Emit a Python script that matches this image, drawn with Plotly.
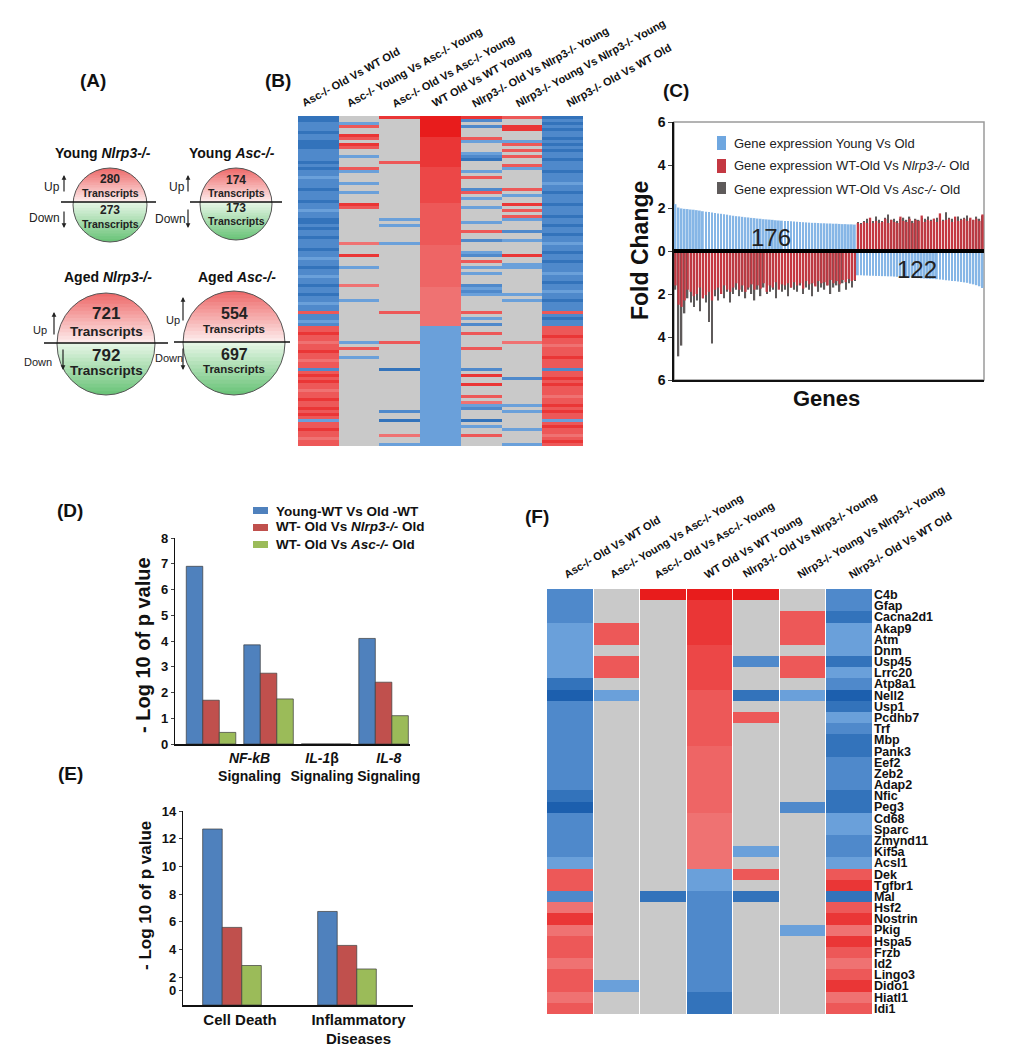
import numpy as np
import plotly.graph_objects as go

W, H = 1012, 1050
OFF = 8  # the page body margin shifts the figure by this much


def px(x):
    return (x - OFF) / W


def py(y):
    return 1 - (y - OFF) / H


FONT = 'Liberation Sans, Arial, sans-serif'

# ---------------- data ----------------
# (A) transcript counts
venn_titles = ['Young <i>Nlrp3-/-</i>', 'Young <i>Asc-/-</i>', 'Aged <i>Nlrp3-/-</i>', 'Aged <i>Asc-/-</i>']
venn_up = [280, 174, 721, 554]
venn_down = [273, 173, 792, 697]

# (B) heatmap, 110 rows x 7 comparisons
comparisons = ['Asc-/- Old Vs WT Old', 'Asc-/- Young Vs Asc-/- Young', 'Asc-/- Old Vs Asc-/- Young',
               'WT Old Vs WT Young', 'Nlrp3-/- Old Vs Nlrp3-/- Young', 'Nlrp3-/- Young Vs Nlrp3-/- Young',
               'Nlrp3-/- Old Vs WT Old']
codes = {'D': -2.0, 'B': -1.7, 'b': -1.35, 'l': -1.0, '.': 0.0,
         'p': 1.0, 'q': 1.15, 'r': 1.3, 'Q': 1.5, 'R': 1.7, 'X': 2.0}
b_rows = 110
b_base = [[(0, 69, 'b'), (70, 109, 'r')],
          [(0, 109, '.')],
          [(0, 109, '.')],
          [(0, 6, 'X'), (7, 16, 'R'), (17, 28, 'Q'), (29, 42, 'r'), (43, 56, 'q'), (57, 69, 'p'), (70, 109, 'l')],
          [(0, 109, '.')],
          [(0, 109, '.')],
          [(0, 69, 'b'), (70, 109, 'r')]]
b_stripes = [
    [(0, 'B'), (1, 'B'), (5, 'B'), (8, 'B'), (9, 'B'), (10, 'B'), (15, 'B'), (17, 'B'), (20, 'l'), (24, 'B'),
     (28, 'B'), (31, 'l'), (34, 'B'), (35, 'B'), (37, 'B'), (40, 'B'), (44, 'B'), (47, 'l'), (50, 'B'), (53, 'l'),
     (56, 'B'), (59, 'B'), (62, 'l'), (65, 'r'), (68, 'l'), (72, 'R'), (75, 'p'), (78, 'R'), (81, 'p'), (84, 'b'),
     (86, 'R'), (88, 'R'), (91, 'p'), (94, 'R'), (97, 'R'), (99, 'R'), (101, 'l'), (104, 'R'), (107, 'p')],
    [(2, 'l'), (3, 'r'), (6, 'R'), (7, 'r'), (9, 'R'), (10, 'r'), (13, 'l'), (17, 'r'), (18, 'l'), (22, 'l'),
     (25, 'l'), (29, 'R'), (30, 'r'), (42, 'p'), (46, 'R'), (50, 'l'), (56, 'p'), (61, 'l'), (75, 'l'), (77, 'r'),
     (80, 'l')],
    [(0, 'R'), (15, 'r'), (34, 'l'), (36, 'l'), (42, 'l'), (65, 'r'), (75, 'r'), (84, 'B'), (98, 'b'), (101, 'B'),
     (106, 'p'), (109, 'l')],
    [],
    [(0, 'R'), (1, 'b'), (3, 'b'), (7, 'r'), (8, 'l'), (12, 'l'), (13, 'b'), (14, 'B'), (18, 'l'), (20, 'r'),
     (24, 'b'), (25, 'r'), (27, 'l'), (30, 'l'), (35, 'l'), (38, 'r'), (41, 'b'), (45, 'l'), (46, 'b'), (48, 'r'),
     (50, 'l'), (52, 'l'), (56, 'b'), (57, 'l'), (58, 'b'), (59, 'l'), (65, 'r'), (67, 'l'), (69, 'b'), (72, 'r'),
     (77, 'r'), (84, 'b'), (86, 'R'), (89, 'R'), (93, 'r'), (95, 'p'), (96, 'l'), (97, 'b'), (101, 'B'), (103, 'l'),
     (106, 'r')],
    [(0, 'r'), (3, 'R'), (4, 'R'), (8, 'l'), (9, 'r'), (11, 'r'), (13, 'r'), (16, 'r'), (17, 'l'), (24, 'r'),
     (26, 'l'), (29, 'R'), (31, 'r'), (33, 'r'), (34, 'l'), (38, 'b'), (41, 'l'), (46, 'R'), (49, 'l'), (50, 'l'),
     (59, 'l'), (61, 'l'), (75, 'p'), (87, 'b'), (96, 'l'), (98, 'l'), (104, 'l'), (109, 'l')],
    [(0, 'B'), (2, 'B'), (4, 'B'), (7, 'B'), (9, 'B'), (11, 'B'), (14, 'B'), (18, 'B'), (22, 'l'), (25, 'B'),
     (29, 'B'), (33, 'B'), (36, 'B'), (39, 'B'), (42, 'l'), (45, 'B'), (48, 'B'), (52, 'l'), (55, 'B'), (58, 'l'),
     (61, 'B'), (65, 'r'), (67, 'B'), (73, 'R'), (76, 'p'), (80, 'R'), (84, 'b'), (87, 'R'), (89, 'R'), (93, 'p'),
     (96, 'R'), (98, 'R'), (101, 'l'), (103, 'R'), (106, 'p'), (108, 'R')],
]

# (C) fold change per gene, 60 genes up in young / 42 down in young
c_young_old_left = [2.18, 2.02, 1.98, 1.96, 1.95, 1.93, 1.92, 1.90, 1.88, 1.85,
                    1.83, 1.81, 1.79, 1.77, 1.75, 1.73, 1.71, 1.69, 1.66, 1.64,
                    1.62, 1.61, 1.59, 1.57, 1.56, 1.54, 1.53, 1.51, 1.50, 1.48,
                    1.47, 1.46, 1.45, 1.43, 1.42, 1.41, 1.40, 1.39, 1.38, 1.37,
                    1.36, 1.35, 1.34, 1.33, 1.32, 1.31, 1.31, 1.30, 1.29, 1.29,
                    1.28, 1.28, 1.27, 1.27, 1.26, 1.25, 1.25, 1.24, 1.24, 1.23]
c_young_old_right = [-1.13, -1.13, -1.14, -1.14, -1.15, -1.15, -1.16, -1.16, -1.17, -1.17,
                     -1.18, -1.18, -1.19, -1.20, -1.21, -1.22, -1.22, -1.23, -1.24, -1.25,
                     -1.26, -1.27, -1.28, -1.29, -1.30, -1.30, -1.31, -1.33, -1.34, -1.36,
                     -1.37, -1.39, -1.40, -1.42, -1.44, -1.46, -1.48, -1.52, -1.55, -1.59,
                     -1.64, -1.72]
c_nlrp3_left = [-1.6, -2.5, -2.6, -2.3, -1.8, -1.9, -2.1, -2.0, -1.7, -2.2,
                -2.05, -1.9, -2.3, -1.8, -1.7, -2.0, -1.6, -1.8, -1.9, -1.7,
                -1.5, -1.8, -1.6, -1.9, -1.7, -1.55, -1.8, -1.6, -1.75, -1.5,
                -1.9, -1.6, -1.7, -1.45, -1.8, -1.55, -1.6, -1.5, -1.7, -1.45,
                -1.6, -1.5, -1.75, -1.4, -1.55, -1.5, -1.65, -1.4, -1.5, -1.45,
                -1.6, -1.35, -1.5, -1.4, -1.55, -1.35, -1.45, -1.3, -1.4, -1.35]
c_nlrp3_right = [1.3, 1.25, 1.35, 1.3, 1.55, 1.3, 1.4, 1.3, 1.35, 1.5,
                 1.3, 1.45, 1.35, 1.3, 1.6, 1.4, 1.35, 1.5, 1.3, 1.45,
                 1.4, 1.65, 1.35, 1.45, 1.4, 1.5, 1.35, 1.75, 1.4, 1.45,
                 1.5, 1.35, 1.6, 1.4, 1.45, 1.5, 1.4, 1.55, 1.45, 1.5,
                 1.4, 1.7]
c_asc_left = [-1.8, -4.9, -4.4, -2.9, -2.2, -2.4, -2.6, -2.3, -2.8, -2.2,
              -2.4, -3.3, -4.3, -2.1, -2.3, -2.0, -2.2, -1.9, -2.4, -2.0,
              -1.8, -2.1, -1.9, -2.2, -1.8, -2.0, -2.3, -1.8, -2.1, -1.7,
              -2.0, -1.9, -1.8, -2.2, -1.7, -1.9, -1.8, -2.1, -1.7, -1.8,
              -1.9, -1.6, -2.0, -1.7, -1.8, -2.1, -1.6, -1.9, -1.7, -1.8,
              -1.6, -2.0, -1.7, -1.6, -1.9, -1.5, -1.8, -1.5, -1.7, -1.4]
c_asc_right = [1.35, 1.3, 1.4, 1.5, 1.45, 1.4, 1.6, 1.45, 1.4, 1.55,
               1.7, 1.45, 1.5, 1.4, 1.5, 1.55, 1.45, 1.6, 1.4, 1.5,
               1.45, 1.55, 1.5, 1.6, 1.45, 1.5, 1.55, 1.5, 1.45, 1.8,
               1.55, 1.5, 1.45, 1.6, 1.5, 1.55, 1.65, 1.5, 1.45, 1.6,
               1.5, 1.65]
c_counts = ['176', '122']
c_names = ['Gene expression Young Vs Old', 'Gene expression WT-Old Vs <i>Nlrp3-/-</i> Old',
           'Gene expression WT-Old Vs <i>Asc-/-</i> Old']
c_ticks = [-6, -4, -2, 0, 2, 4, 6]
c_ticktext = ['6', '4', '2', '0', '2', '4', '6']

# (D) pathway significance
d_groups = ['', '<i>NF-kB</i><br>Signaling', '<i>IL-1</i>β<br>Signaling', '<i>IL-8</i><br>Signaling']
d_names = ['Young-WT Vs Old -WT', 'WT- Old Vs <i>Nlrp3-/-</i> Old', 'WT- Old Vs <i>Asc-/-</i> Old']
d_young_wt = [6.9, 3.85, 0, 4.1]
d_nlrp3 = [1.7, 2.75, 0, 2.4]
d_asc = [0.45, 1.75, 0, 1.1]

# (E) disease significance
e_groups = ['Cell Death', 'Inflammatory<br>Diseases']
e_young_wt = [12.7, 6.75]
e_nlrp3 = [5.6, 4.3]
e_asc = [2.85, 2.6]
e_ticks = [1.05, 2, 4, 6, 8, 10, 12, 14]
e_ticktext = ['0', '2', '4', '6', '8', '10', '12', '14']

# (F) selected genes
f_genes = ['C4b', 'Gfap', 'Cacna2d1', 'Akap9', 'Atm', 'Dnm', 'Usp45', 'Lrrc20', 'Atp8a1', 'Nell2',
           'Usp1', 'Pcdhb7', 'Trf', 'Mbp', 'Pank3', 'Eef2', 'Zeb2', 'Adap2', 'Nfic', 'Peg3',
           'Cd68', 'Sparc', 'Zmynd11', 'Kif5a', 'Acsl1', 'Dek', 'Tgfbr1', 'Mal', 'Hsf2', 'Nostrin',
           'Pkig', 'Hspa5', 'Frzb', 'Id2', 'Lingo3', 'Dido1', 'Hiatl1', 'Idi1']
f_cols = ['bbbll lllBD bbbbb bbbBD bbbbl rrbpR prrpr rpr',
          '...rr .rr.l ..... ..... ..... ..... ..... l..',
          'X.... ..... ..... ..... ..... ..B.. ..... ...',
          'XRRRR QQQQr rrrrq qqqqq ppppp llbbb bbbbb bBB',
          'X.... .b..B .r... ..... ...l. r.B.. ..... ...',
          '..rrr .rr.l ..... ....b ..... ..... l.... ...',
          'bbBll lBlbD BlbBB bbbBB llbbl rRBrR pRrpr Rpr']

# ---------------- figure ----------------
fig = go.Figure()
scale = [[0, '#1c5fae'], [0.25, '#6aa0da'], [0.5, '#c9c9c9'], [0.75, '#ef7272'], [1, '#e81c1c']]
c_colors = ['#86b6e6', '#c43842', '#5e5a5a']
d_colors = ['#4f81bd', '#c0504d', '#9bbb59']

# (C) grey drawn under red
c_x = list(range(len(c_young_old_left) + len(c_young_old_right)))
fig.add_trace(go.Bar(x=c_x, y=c_young_old_left + c_young_old_right, width=0.6,
                     marker=dict(color=c_colors[0], line_width=0), name=c_names[0], xaxis='x', yaxis='y'))
fig.add_trace(go.Bar(x=c_x, y=c_asc_left + c_asc_right, width=0.45,
                     marker=dict(color=c_colors[2], line_width=0), name=c_names[2], xaxis='x', yaxis='y'))
fig.add_trace(go.Bar(x=c_x, y=c_nlrp3_left + c_nlrp3_right, width=0.75,
                     marker=dict(color=c_colors[1], line_width=0), name=c_names[1], xaxis='x', yaxis='y'))

# (D) and (E)
bar_line = dict(color='rgba(60,60,60,0.7)', width=1)
d_x = list(range(len(d_groups)))
for vals, col, name, off in zip([d_young_wt, d_nlrp3, d_asc], d_colors, d_names, [-0.43, -0.143, 0.144]):
    fig.add_trace(go.Bar(x=d_x, y=vals, offset=off, width=0.287, marker=dict(color=col, line=bar_line),
                         name=name, xaxis='x2', yaxis='y2'))
e_x = list(range(len(e_groups)))
for vals, col, off in zip([e_young_wt, e_nlrp3, e_asc], d_colors, [-0.255, -0.085, 0.085]):
    fig.add_trace(go.Bar(x=e_x, y=vals, offset=off, width=0.17, marker=dict(color=col, line=bar_line),
                         xaxis='x3', yaxis='y3'))

# (B) heatmap
b_z = [[0.0] * len(comparisons) for _ in range(b_rows)]
for ci, runs in enumerate(b_base):
    for r0, r1, c in runs:
        for r in range(r0, r1 + 1):
            b_z[r][ci] = codes[c]
    for r, c in b_stripes[ci]:
        b_z[r][ci] = codes[c]
fig.add_trace(go.Heatmap(z=b_z, x=list(range(len(comparisons))), y=list(range(b_rows)), colorscale=scale,
                         zmin=-2, zmax=2, showscale=False, xaxis='x4', yaxis='y4'))

# (F) heatmap
f_strs = [s.replace(' ', '') for s in f_cols]
f_z = [[codes[f_strs[c][r]] for c in range(len(f_strs))] for r in range(len(f_genes))]
fig.add_trace(go.Heatmap(z=f_z, x=list(range(len(comparisons))), y=list(range(len(f_genes))), colorscale=scale,
                         zmin=-2, zmax=2, showscale=False, xgap=1, xaxis='x5', yaxis='y5'))

# ---------------- panel A drawing ----------------
shapes = []
ann = []


def mix(c1, c2, t):
    a = [int(c1[i:i + 2], 16) for i in (1, 3, 5)]
    b = [int(c2[i:i + 2], 16) for i in (1, 3, 5)]
    return '#%02x%02x%02x' % tuple(round(a[k] + (b[k] - a[k]) * t) for k in range(3))


def strip_path(cx, cy, rx, ry, ya, yb):
    ys = np.linspace(ya, yb, 6)
    w = rx * np.sqrt(np.clip(1 - ((ys - cy) / ry) ** 2, 0, 1))
    pts = [(cx - wi, yi) for wi, yi in zip(w, ys)] + [(cx + wi, yi) for wi, yi in zip(w[::-1], ys[::-1])]
    return 'M ' + ' L '.join('%.5f,%.5f' % (px(x), py(y)) for x, y in pts) + ' Z'


venn_geo = [
    dict(cx=110, cy=205, rx=37, ry=37, split=202, lx=(61, 156), title=(103, 153), nums=(179, 193, 210, 224),
         fs=(12, 10.5), up=(52, 187, 64, 175, 193), dn=(44, 218, 64, 210, 228)),
    dict(cx=236, cy=204, rx=36, ry=36, split=202, lx=(190, 282), title=(232, 153), nums=(180, 193, 208, 221),
         fs=(12, 10.5), up=(177, 187, 188, 175, 193), dn=(170, 219, 188, 208, 228)),
    dict(cx=106, cy=344, rx=49, ry=51, split=343, lx=(44, 168), title=(108, 277), nums=(314, 332, 355, 371),
         fs=(17, 13.5), up=(40, 330, 54, 312, 336), dn=(38, 362, 63, 348, 370)),
    dict(cx=234, cy=343, rx=51, ry=52, split=342, lx=(174, 290), title=(237, 277), nums=(313, 329, 354, 369),
         fs=(16, 11.5), up=(173, 320, 183, 297, 322), dn=(169, 358, 183, 347, 370)),
]
for i, g in enumerate(venn_geo):
    cx, cy, rx, ry, sp = g['cx'], g['cy'], g['rx'], g['ry'], g['split']
    top, bot = cy - ry, cy + ry
    n = 14
    for k in range(n):
        ya = top + (sp - top) * k / n
        yb = min(top + (sp - top) * (k + 1) / n + 1.0, sp)
        shapes.append(dict(type='path', xref='paper', yref='paper', path=strip_path(cx, cy, rx, ry, ya, yb),
                           fillcolor=mix('#ee6c6c', '#fde9e9', k / (n - 1)), line=dict(width=0), layer='below'))
        ya = sp + (bot - sp) * k / n
        yb = min(sp + (bot - sp) * (k + 1) / n + 1.0, bot)
        shapes.append(dict(type='path', xref='paper', yref='paper', path=strip_path(cx, cy, rx, ry, ya, yb),
                           fillcolor=mix('#e4f5e4', '#6cc47a', k / (n - 1)), line=dict(width=0), layer='below'))
    shapes.append(dict(type='circle', xref='paper', yref='paper', x0=px(cx - rx), x1=px(cx + rx),
                       y0=py(cy + ry), y1=py(cy - ry), line=dict(color='#555', width=1)))
    shapes.append(dict(type='line', xref='paper', yref='paper', x0=px(g['lx'][0]), x1=px(g['lx'][1]),
                       y0=py(sp), y1=py(sp), line=dict(color='#111', width=1.3)))
    ann.append(dict(x=px(g['title'][0]), y=py(g['title'][1]), text=venn_titles[i],
                    font=dict(size=14, weight='bold', color='#111')))
    for j, (txt, yy) in enumerate(zip([str(venn_up[i]), 'Transcripts', str(venn_down[i]), 'Transcripts'],
                                      g['nums'])):
        ann.append(dict(x=px(cx), y=py(yy), text=txt,
                        font=dict(size=g['fs'][j % 2], weight='bold', color='#222')))
    lab_fs = 12 if i < 2 else 11
    ann.append(dict(x=px(g['up'][0]), y=py(g['up'][1]), text='Up', font=dict(size=lab_fs, color='#222')))
    ann.append(dict(x=px(g['dn'][0]), y=py(g['dn'][1]), text='Down', font=dict(size=lab_fs, color='#222')))
    ann.append(dict(x=px(g['up'][2]), y=py(g['up'][3]), ax=0, ay=g['up'][4] - g['up'][3], text='', showarrow=True,
                    arrowhead=2, arrowsize=0.8, arrowwidth=1.2, arrowcolor='#222'))
    ann.append(dict(x=px(g['dn'][2]), y=py(g['dn'][4]), ax=0, ay=g['dn'][3] - g['dn'][4], text='', showarrow=True,
                    arrowhead=2, arrowsize=0.8, arrowwidth=1.2, arrowcolor='#222'))

# panel letters
for txt, x, y in [('(A)', 93, 80), ('(B)', 278, 80), ('(C)', 676, 90), ('(D)', 70, 510), ('(E)', 70, 773),
                  ('(F)', 537, 517)]:
    ann.append(dict(x=px(x), y=py(y), text=txt, font=dict(size=19, weight='bold', color='#111')))

# heatmap column labels
for txt, x in zip(comparisons, [303, 348, 393, 433, 473, 517, 568]):
    ann.append(dict(x=px(x - 6), y=py(112), text=txt, textangle=-29, xanchor='left', yanchor='bottom',
                    font=dict(size=11, weight='bold', color='#111')))
for txt, x in zip(comparisons, [565, 611, 655, 705, 744, 798, 850]):
    ann.append(dict(x=px(x - 6), y=py(583), text=txt, textangle=-31, xanchor='left', yanchor='bottom',
                    font=dict(size=11, weight='bold', color='#111')))

# legends drawn by hand
for name, col, (y0, y1), yt in zip(c_names, c_colors, [(136, 150), (159, 173), (182, 194)], [143, 166, 189]):
    shapes.append(dict(type='rect', xref='paper', yref='paper', x0=px(717), x1=px(726), y0=py(y1), y1=py(y0),
                       fillcolor=col if col != '#86b6e6' else '#6fa7e0', line_width=0))
    ann.append(dict(x=px(732), y=py(yt), text=name, xanchor='left', font=dict(size=13, color='#222')))
for name, col, (y0, y1), yt in zip(d_names, d_colors, [(507, 514), (524, 531), (541, 548)], [511, 527, 544]):
    shapes.append(dict(type='rect', xref='paper', yref='paper', x0=px(253), x1=px(268), y0=py(y1), y1=py(y0),
                       fillcolor=col, line_width=0))
    ann.append(dict(x=px(274), y=py(yt), text=name, xanchor='left',
                    font=dict(size=13.5, weight='bold', color='#111')))

# panel C texts and axis titles
ann.append(dict(x=px(771), y=py(237), text=c_counts[0], font=dict(size=24, color='#222')))
ann.append(dict(x=px(917), y=py(269), text=c_counts[1], font=dict(size=24, color='#222')))
ann.append(dict(x=px(640), y=py(251), text='Fold Change', textangle=-90,
                font=dict(size=23, weight='bold', color='#111')))
ann.append(dict(x=px(826), y=py(398), text='Genes', font=dict(size=22, weight='bold', color='#111')))
ann.append(dict(x=px(143), y=py(645), text='- Log 10 of p value', textangle=-90,
                font=dict(size=20, weight='bold', color='#111')))
ann.append(dict(x=px(145), y=py(896), text='- Log 10 of p value', textangle=-90,
                font=dict(size=17, weight='bold', color='#111')))
for a in ann:
    a.setdefault('xref', 'paper')
    a.setdefault('yref', 'paper')
    a.setdefault('showarrow', False)
    a.setdefault('xanchor', 'center')
    a.setdefault('yanchor', 'middle')

shapes.append(dict(type='line', xref='x', yref='y', x0=-0.5, x1=len(c_x) - 0.5, y0=0, y1=0,
                   line=dict(color='#000', width=4)))
shapes.append(dict(type='rect', xref='paper', yref='paper', x0=px(674), x1=px(984), y0=py(380), y1=py(122),
                   line=dict(color='#9a9a9a', width=1.5), layer='below'))

hidden = dict(visible=False, showgrid=False, zeroline=False, automargin=False)
tick_bold = dict(size=13, weight='bold', color='#111')
line_ax = dict(showline=True, linecolor='#111', showgrid=False, zeroline=False, automargin=False)

fig.update_layout(
    width=W, height=H, margin=dict(l=0, r=0, t=0, b=0, autoexpand=False),
    paper_bgcolor='white', plot_bgcolor='white',
    font=dict(family=FONT, color='#111'),
    barmode='overlay', showlegend=False,
    shapes=shapes, annotations=ann,
    xaxis=dict(domain=[px(674), px(984)], range=[-0.5, len(c_x) - 0.5], showticklabels=False, ticks='',
               linewidth=1.5, anchor='y', **line_ax),
    yaxis=dict(domain=[py(380), py(122)], range=[-6, 6], tickvals=c_ticks, ticktext=c_ticktext, ticks='outside',
               ticklen=4, linewidth=1.5, tickfont=dict(size=14, weight='bold', color='#111'), anchor='x', **line_ax),
    xaxis2=dict(domain=[px(175), px(410)], range=[-0.626, 3.46], tickvals=[0.67, 1.93, 3.09],
                ticktext=d_groups[1:], ticks='', linewidth=1.5,
                tickfont=dict(size=14, weight='bold', color='#111'), anchor='y2', **line_ax),
    yaxis2=dict(domain=[py(744), py(538)], range=[0, 8], dtick=1, ticks='outside', ticklen=3, linewidth=1.2,
                tickfont=tick_bold, anchor='x2', **line_ax),
    xaxis3=dict(domain=[px(183), px(413)], range=[-0.426, 1.574], tickvals=[0.07, 1.1], ticktext=e_groups,
                ticks='', linewidth=1.5, tickfont=dict(size=15, weight='bold', color='#111'), anchor='y3',
                **line_ax),
    yaxis3=dict(domain=[py(1005), py(811)], range=[0, 14], tickvals=e_ticks, ticktext=e_ticktext, ticks='outside',
                ticklen=3, linewidth=1.2, tickfont=tick_bold, anchor='x3', **line_ax),
    xaxis4=dict(domain=[px(298), px(583)], range=[-0.5, 6.5], anchor='y4', **hidden),
    yaxis4=dict(domain=[py(446), py(116)], range=[b_rows - 0.5, -0.5], anchor='x4', **hidden),
    xaxis5=dict(domain=[px(547), px(873)], range=[-0.5, 6.5], anchor='y5', **hidden),
    yaxis5=dict(domain=[py(1014), py(589)], range=[len(f_genes) - 0.5, -0.5], anchor='x5', side='right',
                tickvals=list(range(len(f_genes))), ticktext=f_genes, ticks='', showline=False, showgrid=False,
                zeroline=False, automargin=False, tickfont=dict(size=12.5, weight='bold', color='#111')),
)

fig.write_html("out.html")
